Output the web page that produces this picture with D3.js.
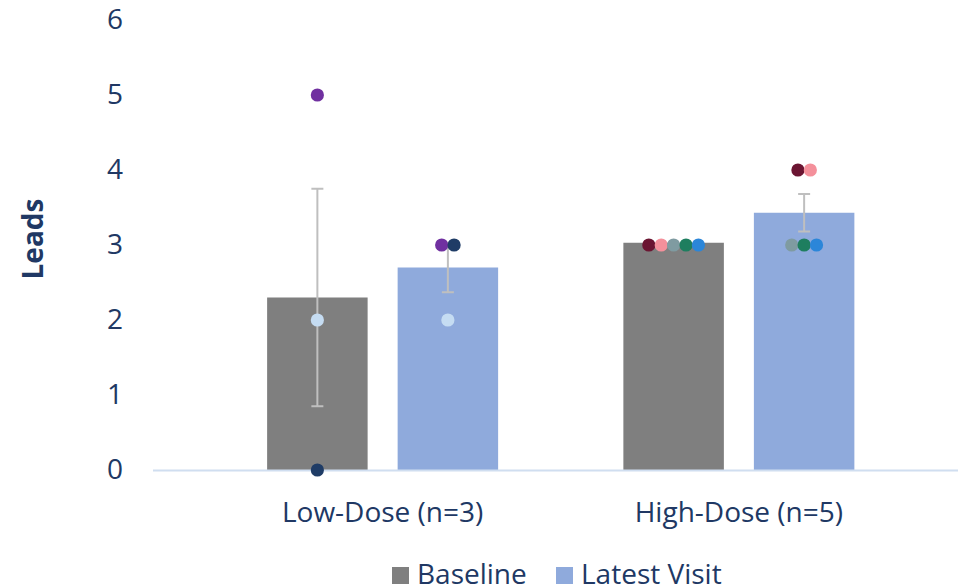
<!DOCTYPE html>
<html>
<head>
<meta charset="utf-8">
<script src="https://cdn.jsdelivr.net/npm/d3@7"></script>
<style>
  html, body { margin: 0; padding: 0; background: #fff; }
  svg { display: block; }
  text { font-family: "Open Sans", Lato, sans-serif; fill: #203864; }
</style>
</head>
<body>
<svg id="chart" width="967" height="588"></svg>
<script>
// ---- data ----
const categories = ["Low-Dose (n=3)", "High-Dose (n=5)"];
const seriesNames = ["Baseline", "Latest Visit"];
const baselineMeans = [2.3, 3.03];
const latestMeans = [2.7, 3.43];
const baselineErrors = [1.45, 0];
const latestErrors = [0.33, 0.25];
const yTicks = [0, 1, 2, 3, 4, 5, 6];

// individual subjects
const subjectGroup    = ["Low-Dose (n=3)", "Low-Dose (n=3)", "Low-Dose (n=3)", "High-Dose (n=5)", "High-Dose (n=5)", "High-Dose (n=5)", "High-Dose (n=5)", "High-Dose (n=5)"];
const subjectColors   = ["#7030A0", "#C5DCF2", "#1F3C66", "#6B1532", "#F4909B", "#7F9BA1", "#1E7E5F", "#2B86D9"];
const subjectBaseline = [5, 2, 0, 3, 3, 3, 3, 3];
const subjectLatest   = [3, 2, 3, 4, 4, 3, 3, 3];
const latestOrder     = [0, 2, 1, 3, 4, 5, 6, 7];

const seriesColors = ["#7F7F7F", "#8FAADC"];

// ---- layout ----
const FS = "28px";
const svg = d3.select("#chart");
const y = d3.scaleLinear().domain([0, 6]).range([470, 20]);
const x0 = d3.scaleBand().domain(categories).range([204.5, 917]);
const groupW = 231;
const x1 = d3.scaleBand().domain(seriesNames)
  .range([(x0.bandwidth() - groupW) / 2, (x0.bandwidth() + groupW) / 2])
  .paddingInner(0.23);

const means = [baselineMeans, latestMeans];
const errs = [baselineErrors, latestErrors];
const barData = [];
seriesNames.forEach((s, si) => categories.forEach((c, ci) => {
  barData.push({ series: s, si, cat: c, v: means[si][ci], e: errs[si][ci] });
}));

// y axis (labels only)
const yAxis = d3.axisLeft(y).tickValues(yTicks).tickSize(0).tickPadding(0).tickFormat(d3.format("d"));
const yg = svg.append("g").attr("transform", "translate(123,0)").call(yAxis);
yg.select(".domain").remove();
yg.selectAll("text").style("font-size", FS).attr("fill", "#203864").style("font-family", null);

// axis title
svg.append("text")
  .attr("transform", "translate(43,239) rotate(-90)")
  .attr("text-anchor", "middle")
  .style("font-size", FS).style("font-weight", "bold")
  .text("Leads");

// bars
svg.append("g").selectAll("rect").data(barData).join("rect")
  .attr("x", d => x0(d.cat) + x1(d.series))
  .attr("width", x1.bandwidth())
  .attr("y", d => y(d.v))
  .attr("height", d => y(0) - y(d.v))
  .attr("fill", d => seriesColors[d.si]);

// x axis line
svg.append("line").attr("x1", 153).attr("x2", 958).attr("y1", y(0) + 0.5).attr("y2", y(0) + 0.5)
  .attr("stroke", "#D0DEF0").attr("stroke-width", 2);

// x axis labels
const xAxis = d3.axisBottom(x0).tickSize(0).tickPadding(0);
const xg = svg.append("g").attr("transform", "translate(0,502)").call(xAxis);
xg.select(".domain").remove();
xg.selectAll("text").style("font-size", FS).attr("fill", "#203864").style("font-family", null).attr("dy", "0.71em");

// error bars
const eg = svg.append("g").attr("stroke", "#BFBFBF").attr("stroke-width", 2);
barData.filter(d => d.e > 0).forEach(d => {
  const cx = x0(d.cat) + x1(d.series) + x1.bandwidth() / 2;
  eg.append("line").attr("x1", cx).attr("x2", cx).attr("y1", y(d.v - d.e)).attr("y2", y(d.v + d.e));
  [d.v - d.e, d.v + d.e].forEach(v => eg.append("line")
    .attr("x1", cx - 6).attr("x2", cx + 6).attr("y1", y(v)).attr("y2", y(v)));
});

// dots
const spacing = 12.4;
const dotG = svg.append("g");
function drawDots(values, order, series) {
  categories.forEach(cat => {
    const idx = order.filter(i => subjectGroup[i] === cat);
    const byVal = d3.group(idx, i => values[i]);
    byVal.forEach((list, v) => {
      const cx = x0(cat) + x1(series) + x1.bandwidth() / 2;
      list.forEach((i, k) => {
        dotG.append("circle")
          .attr("cx", cx + (k - (list.length - 1) / 2) * spacing)
          .attr("cy", y(v))
          .attr("r", 6.6)
          .attr("fill", subjectColors[i]);
      });
    });
  });
}
drawDots(subjectBaseline, d3.range(subjectBaseline.length), "Baseline");
drawDots(subjectLatest, latestOrder, "Latest Visit");

// legend
const legendX = [392, 556];
const lg = svg.append("g");
seriesNames.forEach((s, i) => {
  lg.append("rect").attr("x", legendX[i]).attr("y", 567).attr("width", 17).attr("height", 17).attr("fill", seriesColors[i]);
  lg.append("text").attr("x", legendX[i] + 25).attr("y", 584).style("font-size", FS).text(s);
});
</script>
</body>
</html>
